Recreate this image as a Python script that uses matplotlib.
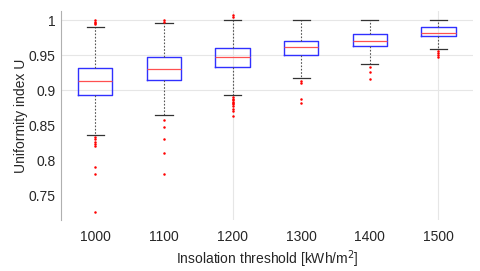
import numpy as np
import matplotlib
matplotlib.use("Agg")
from matplotlib import pyplot as plt

plt.rcParams['font.family'] = ['Liberation Sans', 'DejaVu Sans']

thresholds = ['1000', '1100', '1200', '1300', '1400', '1500']
q1 = [0.894, 0.915, 0.934, 0.950, 0.963, 0.977]
med = [0.913, 0.931, 0.947, 0.962, 0.971, 0.982]
q3 = [0.932, 0.947, 0.960, 0.970, 0.980, 0.990]
whislo = [0.837, 0.865, 0.893, 0.918, 0.938, 0.959]
whishi = [0.991, 0.996, 1.000, 1.000, 1.000, 1.000]
fliers = [
    [1.0, 0.998, 0.996, 0.994, 0.833, 0.830, 0.827, 0.824, 0.820, 0.790, 0.781, 0.726],
    [1.0, 0.998, 0.857, 0.848, 0.831, 0.811, 0.781],
    [1.008, 1.004, 0.890, 0.888, 0.886, 0.884, 0.882, 0.880, 0.877, 0.874, 0.870, 0.864],
    [0.914, 0.910, 0.888, 0.882],
    [0.933, 0.926, 0.916],
    [0.956, 0.953, 0.950, 0.947],
]

stats = []
for i in range(len(thresholds)):
    stats.append(dict(med=med[i], q1=q1[i], q3=q3[i], whislo=whislo[i],
                      whishi=whishi[i], fliers=fliers[i]))

fig = plt.figure(figsize=(4.8, 2.71), dpi=100)
ax = fig.add_axes([0.127, 0.188, 0.858, 0.771])

# grid first so boxes draw on top
for y in [0.9, 0.95, 1.0]:
    ax.axhline(y, color='#e6e6e6', lw=0.8, zorder=0)
for x in [3, 6]:
    ax.axvline(x, color='#e6e6e6', lw=0.8, zorder=0)

ax.bxp(stats, positions=range(1, 7), widths=0.5,
       boxprops=dict(color='#3030ff', lw=1.0),
       medianprops=dict(color='#ff5050', lw=0.9),
       whiskerprops=dict(color='#555555', lw=0.8, ls=(0, (1.5, 1.5))),
       capprops=dict(color='#333333', lw=0.9),
       flierprops=dict(marker='o', markerfacecolor='red', markeredgecolor='none',
                       markersize=1.8, ls='none'),
       capwidths=0.25)

ax.set_xlim(0.5, 6.5)
ax.set_ylim(0.715, 1.013)
ax.set_xticks(range(1, 7))
ax.set_xticklabels(thresholds)
ax.set_yticks([0.75, 0.8, 0.85, 0.9, 0.95, 1.0])
ax.set_yticklabels(['0.75', '0.8', '0.85', '0.9', '0.95', '1'])

for s in ['top', 'right', 'bottom']:
    ax.spines[s].set_visible(False)
ax.spines['left'].set_color('#b0b0b0')
ax.tick_params(axis='x', length=0, labelsize=10, colors='#262626', pad=7)
ax.tick_params(axis='y', length=0, labelsize=10, colors='#262626', pad=4)

ax.set_xlabel('Insolation threshold [kWh/m$^2$]', fontsize=10, color='#262626', labelpad=3)
ax.set_ylabel('Uniformity index U', fontsize=10, color='#262626')
ax.yaxis.set_label_coords(-0.08, 0.5)

fig.savefig('out.png', dpi=100)
